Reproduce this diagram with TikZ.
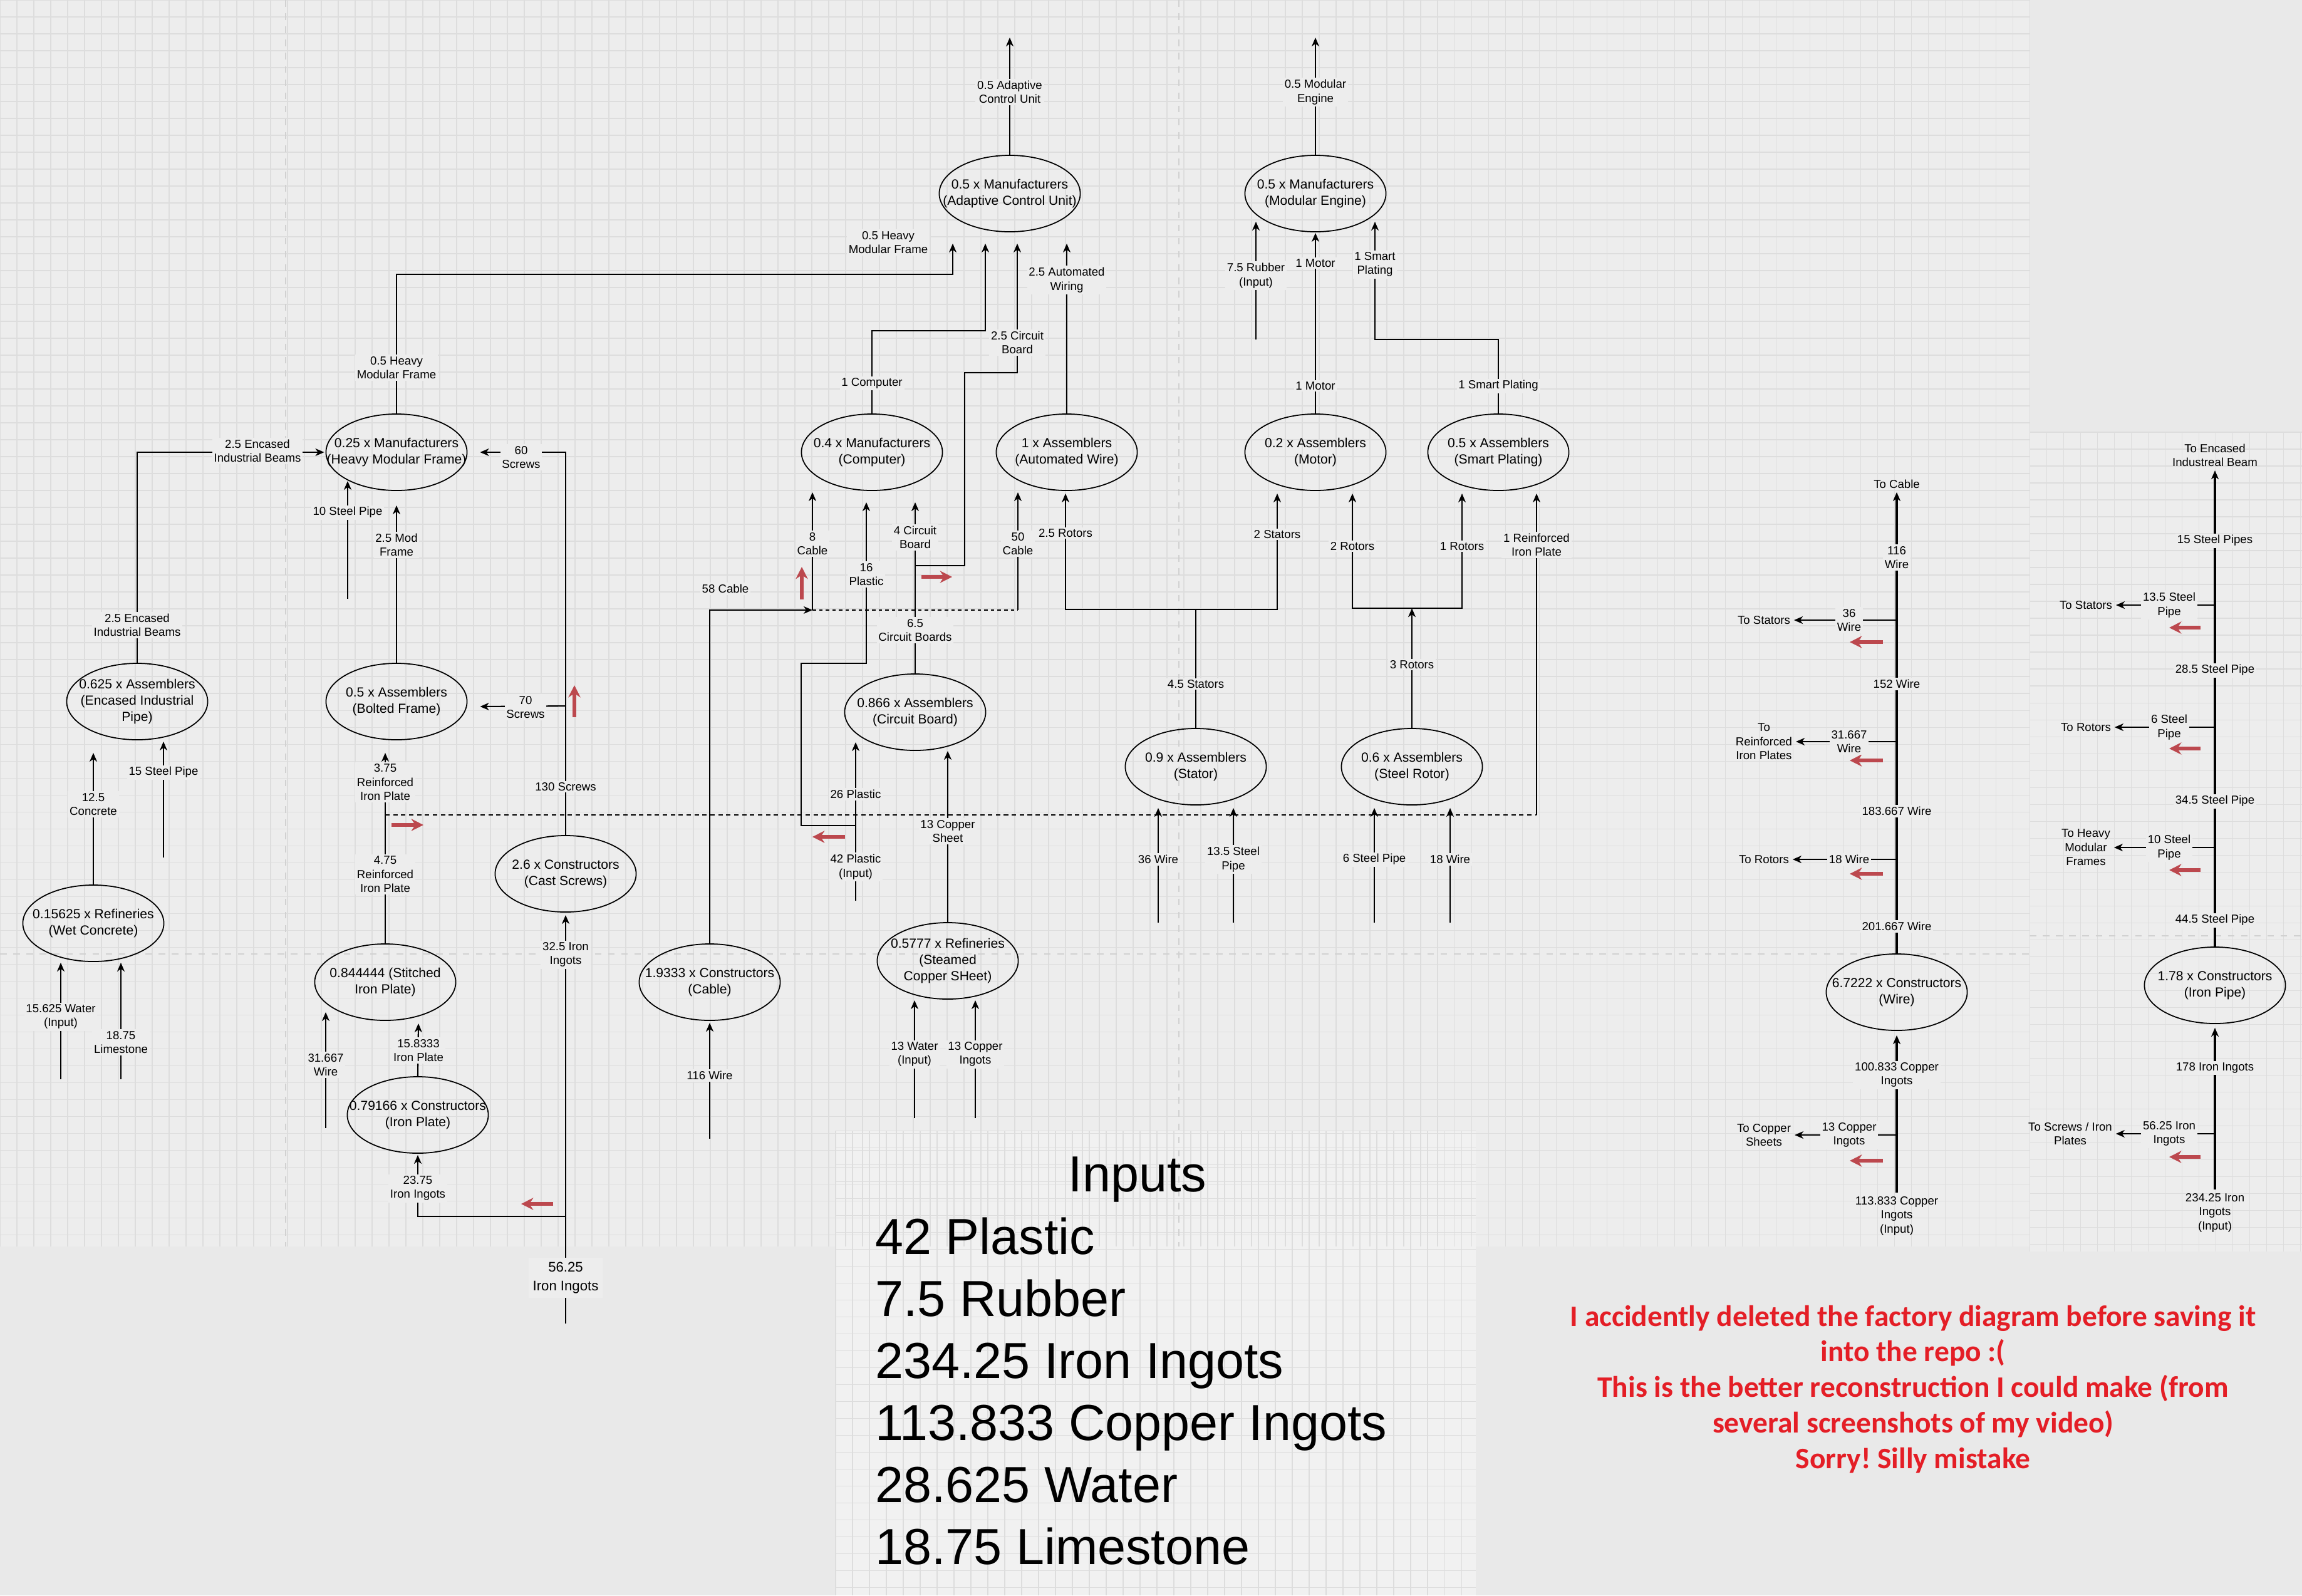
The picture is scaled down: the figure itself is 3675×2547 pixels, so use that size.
\documentclass[tikz,border=0pt]{standalone}
\usepackage{fontspec}
\setmainfont{Liberation Sans}
\newfontfamily\notefont{Carlito}
\usetikzlibrary{shapes.geometric,arrows.meta,calc}
\frenchspacing

\definecolor{canvas}{RGB}{233,233,233}
\definecolor{sheetbg}{RGB}{237,237,237}
\definecolor{inputbg}{RGB}{241,241,241}
\definecolor{gridline}{RGB}{221,221,221}
\definecolor{hintred}{RGB}{188,72,78}
\definecolor{notered}{RGB}{228,30,38}

\newcommand\unitfont{\fontsize{6}{7.3}\selectfont}
\newcommand\lblfont{\fontsize{5.3}{6.4}\selectfont}
\newcommand\bigfont{\fontsize{23}{28}\selectfont}

\tikzset{
    machine/.style={ellipse, draw, line width=0.5pt, minimum width=2.25cm, minimum height=1.22cm, inner xsep=-30pt, inner ysep=0pt, align=center, font=\unitfont},
    flow/.style={line width=0.6pt, -{Stealth[length=4pt,width=3.4pt,inset=1.2pt]}},
    trunk/.style={line width=1pt},
    dotline/.style={line width=0.6pt, dash pattern=on 1.6pt off 1.4pt},
    dashline/.style={line width=0.6pt, dash pattern=on 2pt off 1.6pt},
    lbl/.style={fill=sheetbg, inner sep=0.8pt, align=center, font=\lblfont},
    sink/.style={inner sep=1.5pt, align=center, font=\lblfont},
    hint/.style={draw=hintred, line width=1.5pt, -{Stealth[length=5.5pt,width=5.5pt]}},
    gridrule/.style={draw=gridline, line width=0.3pt},
    pagebreak/.style={draw=black!18, line width=0.4pt, dash pattern=on 3pt off 3pt},
}

\begin{document}
\begin{tikzpicture}[x=0.01cm, y=-0.01cm]
    \useasboundingbox (0,0) rectangle (3675,2547);
    % Sheets
        \fill[canvas] (0,0) rectangle (3675,2547);
        \fill[sheetbg] (0,0) rectangle (3240,1990);
        \fill[sheetbg] (3240,690) rectangle (3675,1998);
        \fill[inputbg] (1334,1805) rectangle (2356,2547);
        \foreach \gx in {0,27,...,3240} \draw[gridrule] (\gx,0) -- (\gx,1990);
        \foreach \gy in {0,27,...,1990} \draw[gridrule] (0,\gy) -- (3240,\gy);
        \foreach \gx in {3240,3267,...,3675} \draw[gridrule] (\gx,690) -- (\gx,1998);
        \foreach \gy in {690,717,...,1998} \draw[gridrule] (3240,\gy) -- (3675,\gy);
        \foreach \gx in {1334,1361,...,2356} \draw[gridrule] (\gx,1805) -- (\gx,2547);
        \foreach \gy in {1805,1832,...,2547} \draw[gridrule] (1334,\gy) -- (2356,\gy);
        \draw[pagebreak] (456,0) -- (456,1990);
        \draw[pagebreak] (1882,0) -- (1882,1990);
        \draw[pagebreak] (0,1523) -- (3240,1523);
        \draw[pagebreak] (3240,1494) -- (3675,1494);
    % Units
        \node[machine] (acu) at (1612,309) {0.5 x Manufacturers\\(Adaptive Control Unit)};
        \node[machine] (engine) at (2100,309) {0.5 x Manufacturers\\(Modular Engine)};
        \node[machine] (hmf) at (633,722) {0.25 x Manufacturers\\(Heavy Modular Frame)};
        \node[machine] (computer) at (1392,722) {0.4 x Manufacturers\\(Computer)};
        \node[machine] (autowire) at (1703,722) {1 x Assemblers\\(Automated Wire)};
        \node[machine] (motor) at (2100,722) {0.2 x Assemblers\\(Motor)};
        \node[machine] (smartplate) at (2392,722) {0.5 x Assemblers\\(Smart Plating)};
        \node[machine] (encased) at (219,1120) {0.625 x Assemblers\\(Encased Industrial\\Pipe)};
        \node[machine] (bolted) at (633,1120) {0.5 x Assemblers\\(Bolted Frame)};
        \node[machine] (circuit) at (1461,1137) {0.866 x Assemblers\\(Circuit Board)};
        \node[machine] (stator) at (1909,1224) {0.9 x Assemblers\\(Stator)};
        \node[machine] (rotor) at (2254,1224) {0.6 x Assemblers\\(Steel Rotor)};
        \node[machine] (screws) at (903,1395) {2.6 x Constructors\\(Cast Screws)};
        \node[machine] (concrete) at (149,1474) {0.15625 x Refineries\\(Wet Concrete)};
        \node[machine] (stitched) at (615,1568) {0.844444 (Stitched\\Iron Plate)};
        \node[machine] (cable) at (1133,1568) {1.9333 x Constructors\\(Cable)};
        \node[machine] (sheet) at (1513,1534) {0.5777 x Refineries\\(Steamed\\Copper SHeet)};
        \node[machine] (ironplate) at (667,1780) {0.79166 x Constructors\\(Iron Plate)};
        \node[machine] (wire) at (3028,1584) {6.7222 x Constructors\\(Wire)};
        \node[machine] (pipe) at (3536,1573) {1.78 x Constructors\\(Iron Pipe)};
    % Loose ends
        \coordinate (acu-out) at (1612,60);
        \coordinate (engine-out) at (2100,60);
        \coordinate (rubber-in) at (2005,542);
        \coordinate (hmfpipe-in) at (555,956);
        \coordinate (encpipe-in) at (261,1369);
        \coordinate (water-in) at (97,1723);
        \coordinate (lime-in) at (193,1723);
        \coordinate (stwire-in) at (520,1801);
        \coordinate (ingot-in) at (903,2113);
        \coordinate (cwire-in) at (1133,1818);
        \coordinate (plastic-in) at (1366,1438);
        \coordinate (water13-in) at (1460,1785);
        \coordinate (copper13-in) at (1557,1785);
        \coordinate (stwire36-in) at (1849,1473);
        \coordinate (stpipe-in) at (1969,1473);
        \coordinate (ropipe-in) at (2194,1473);
        \coordinate (rowire-in) at (2315,1473);
    % Arrow ends
        \coordinate (acu-t1) at ($(acu.south)+(-91,18)$);
        \coordinate (acu-t2) at ($(acu.south)+(-39,18)$);
        \coordinate (acu-t3) at ($(acu.south)+(12,18)$);
        \coordinate (acu-t4) at ($(acu.south)+(91,18)$);
        \coordinate (engine-t1) at ($(engine.south)+(-95,-17)$);
        \coordinate (engine-t2) at ($(engine.south)+(0,1)$);
        \coordinate (engine-t3) at ($(engine.south)+(95,-17)$);
        \coordinate (hmf-t1) at ($(hmf.west)+(-2,0)$);
        \coordinate (hmf-t2) at ($(hmf.south)+(-78,-16)$);
        \coordinate (hmf-t3) at ($(hmf.south)+(0,23)$);
        \coordinate (hmf-t4) at ($(hmf.east)+(20,0)$);
        \coordinate (computer-t1) at ($(computer.south)+(-95,2)$);
        \coordinate (computer-t2) at ($(computer.south)+(-9,18)$);
        \coordinate (computer-t3) at ($(computer.south)+(69,18)$);
        \coordinate (autowire-t1) at ($(autowire.south)+(-78,2)$);
        \coordinate (autowire-t2) at ($(autowire.south)+(-2,4)$);
        \coordinate (motor-t1) at ($(motor.south)+(-61,4)$);
        \coordinate (motor-t2) at ($(motor.south)+(59,4)$);
        \coordinate (smartplate-t1) at ($(smartplate.south)+(-58,4)$);
        \coordinate (smartplate-t2) at ($(smartplate.south)+(61,4)$);
        \coordinate (encased-t1) at ($(encased.south)+(-70,20)$);
        \coordinate (encased-t2) at ($(encased.south)+(42,2)$);
        \coordinate (bolted-t1) at ($(bolted.south)+(-18,20)$);
        \coordinate (bolted-t2) at ($(bolted.east)+(20,8)$);
        \coordinate (circuit-t1) at ($(circuit.south)+(-95,-14)$);
        \coordinate (circuit-t2) at ($(circuit.south)+(52,0)$);
        \coordinate (stator-t1) at ($(stator.south)+(-60,4)$);
        \coordinate (stator-t2) at ($(stator.south)+(60,4)$);
        \coordinate (rotor-t1) at ($(rotor.south)+(-60,4)$);
        \coordinate (rotor-t2) at ($(rotor.south)+(61,4)$);
        \coordinate (screws-t) at ($(screws.south)+(0,4)$);
        \coordinate (concrete-t1) at ($(concrete.south)+(-52,1)$);
        \coordinate (concrete-t2) at ($(concrete.south)+(44,1)$);
        \coordinate (stitched-t1) at ($(stitched.south)+(-95,-14)$);
        \coordinate (stitched-t2) at ($(stitched.south)+(53,4)$);
        \coordinate (cable-t) at ($(cable.south)+(0,3)$);
        \coordinate (sheet-t1) at ($(sheet.south)+(-53,1)$);
        \coordinate (sheet-t2) at ($(sheet.south)+(44,1)$);
        \coordinate (ironplate-t) at ($(ironplate.south)+(0,2)$);
        \coordinate (wire-t) at ($(wire.south)+(0,7)$);
        \coordinate (pipe-t) at ($(pipe.south)+(0,6)$);
    % Flows
        \draw[flow] (acu.north) -- (acu-out);
        \draw[flow] (engine.north) -- (engine-out);
        \draw[flow] (hmf.north) |- ($(acu-t1)+(0,49)$) -- (acu-t1);
        \draw[flow] (computer.north) |- ($(acu-t2)+(0,139)$) -- (acu-t2);
        \draw[flow] (circuit.north) -- (computer-t3);
        \draw[flow] ($(circuit.north)+(0,-172)$) -- ++(79,0) |- ($(acu-t3)+(0,206)$) -- (acu-t3);
        \draw[flow] (autowire.north) -- (acu-t4);
        \draw[flow] (rubber-in) -- (engine-t1);
        \draw[flow] (motor.north) -- (engine-t2);
        \draw[flow] (smartplate.north) |- ($(engine-t3)+(0,188)$) -- (engine-t3);
        \draw[flow] (encased.north) |- (hmf-t1);
        \draw[flow] (hmfpipe-in) -- (hmf-t2);
        \draw[flow] (bolted.north) -- (hmf-t3);
        \draw[flow] (screws.north) |- (hmf-t4);
        \draw[flow] ($(screws.north)+(0,-206)$) -- (bolted-t2);
        \coordinate (cable-j) at ($(computer-t1)+(0,188)$);
        \draw[flow] (cable.north) |- (cable-j);
        \draw[flow] (cable-j) -- (computer-t1);
        \draw[dotline] (cable-j) -- (cable-j -| autowire-t1);
        \draw[flow] (cable-j -| autowire-t1) -- (autowire-t1);
        \draw[flow] (plastic-in) -- (circuit-t1);
        \draw[flow] ($(plastic-in)+(0,-120)$) -- ++(-87,0) |- ($(computer-t2)+(0,257)$) -- (computer-t2);
        \draw[flow] (sheet.north) -- (circuit-t2);
        \draw[flow] (water13-in) -- (sheet-t1);
        \draw[flow] (copper13-in) -- (sheet-t2);
        \draw[flow] (cwire-in) -- (cable-t);
        \draw[flow] (stator.north) |- ($(autowire-t2)+(0,185)$) -- (autowire-t2);
        \draw[flow] (stator.north) |- ($(motor-t1)+(0,185)$) -- (motor-t1);
        \draw[flow] (stwire36-in) -- (stator-t1);
        \draw[flow] (stpipe-in) -- (stator-t2);
        \coordinate (rotor-j) at ($(rotor.north)+(0,-191)$);
        \draw[flow] (rotor.north) -- (rotor-j);
        \draw[flow] (rotor-j) -| (motor-t2);
        \draw[flow] (rotor-j) -| (smartplate-t1);
        \draw[flow] (ropipe-in) -- (rotor-t1);
        \draw[flow] (rowire-in) -- (rotor-t2);
        \draw[flow] (stitched.north) -- (bolted-t1);
        \coordinate (rip-j) at ($(bolted-t1)+(0,99)$);
        \draw[dashline] (rip-j) -- (rip-j -| smartplate-t2);
        \draw[flow] (rip-j -| smartplate-t2) -- (smartplate-t2);
        \draw[flow] (ironplate.north) -- (stitched-t2);
        \draw[flow] (stwire-in) -- (stitched-t1);
        \draw[flow] (ingot-in) -- (screws-t);
        \draw[flow] ($(ingot-in)+(0,-171)$) -| (ironplate-t);
        \draw[flow] (concrete.north) -- (encased-t1);
        \draw[flow] (encpipe-in) -- (encased-t2);
        \draw[flow] (water-in) -- (concrete-t1);
        \draw[flow] (lime-in) -- (concrete-t2);
    % Wire and pipe lines
        \node[sink] (w-cable) at (3028,773) {To Cable};
        \node[sink] (w-stat) at (2816,990) {To Stators};
        \node[sink] (w-rip) at (2816,1184) {To\\Reinforced\\Iron Plates};
        \node[sink] (w-rot) at (2816,1372) {To Rotors};
        \node[sink] (w-sheet) at (2816,1812) {To Copper\\Sheets};
        \node[sink] (w-in) at (3028,1941) {113.833 Copper\\Ingots\\(Input)};
        \draw[flow, trunk] (wire.north) -- (w-cable);
        \draw[flow, trunk] (w-in) -- (wire-t);
        \draw[flow] (w-stat -| wire.north) -- (w-stat);
        \draw[flow] (w-rip -| wire.north) -- (w-rip);
        \draw[flow] (w-rot -| wire.north) -- (w-rot);
        \draw[flow] (w-sheet -| wire.north) -- (w-sheet);
        \node[sink] (p-beam) at (3536,727) {To Encased\\Industreal Beam};
        \node[sink] (p-stat) at (3330,966) {To Stators};
        \node[sink] (p-rot) at (3330,1161) {To Rotors};
        \node[sink] (p-hmf) at (3330,1353) {To Heavy\\Modular\\Frames};
        \node[sink] (p-scr) at (3305,1810) {To Screws / Iron\\Plates};
        \node[sink] (p-in) at (3536,1936) {234.25 Iron\\Ingots\\(Input)};
        \draw[flow, trunk] (pipe.north) -- (p-beam);
        \draw[flow, trunk] (p-in) -- (pipe-t);
        \draw[flow] (p-stat -| pipe.north) -- (p-stat);
        \draw[flow] (p-rot -| pipe.north) -- (p-rot);
        \draw[flow] (p-hmf -| pipe.north) -- (p-hmf);
        \draw[flow] (p-scr -| pipe.north) -- (p-scr);
    % Hints
        \draw[hint] (1280,957) -- (1280,905);
        \draw[hint] (1471,921) -- (1520,921);
        \draw[hint] (1349,1336) -- (1297,1336);
        \draw[hint] (917,1145) -- (917,1094);
        \draw[hint] (625,1317) -- (676,1317);
        \draw[hint] (883,1922) -- (832,1922);
        \foreach \hy in {1025,1214,1395,1853} \draw[hint] (3006,\hy) -- (2953,\hy);
        \foreach \hy in {1002,1195,1389,1847} \draw[hint] (3513,\hy) -- (3463,\hy);
    % Labels
        \node[lbl] (l1) at (1612,147) {0.5 Adaptive\\Control Unit};
        \node[lbl] (l2) at (2100,147) {0.5 Modular\\Engine};
        \node[lbl] (l3) at (1418,387) {0.5 Heavy\\Modular Frame};
        \node[lbl] (l4) at (633,587) {0.5 Heavy\\Modular Frame};
        \node[lbl] (l5) at (1392,612) {1 Computer};
        \node[lbl] (l6) at (1624,547) {2.5 Circuit\\Board};
        \node[lbl] (l7) at (1703,447) {2.5 Automated\\Wiring};
        \node[lbl] (l8) at (2005,440) {7.5 Rubber\\(Input)};
        \node[lbl] (l9) at (2100,420) {1 Motor};
        \node[lbl] (l10) at (2195,422) {1 Smart\\Plating};
        \node[lbl] (l11) at (2100,616) {1 Motor};
        \node[lbl] (l12) at (2392,616) {1 Smart Plating};
        \node[lbl] (l13) at (411,720) {2.5 Encased\\Industrial Beams};
        \node[lbl] (l14) at (219,998) {2.5 Encased\\Industrial Beams};
        \node[lbl] (l15) at (832,730) {60\\Screws};
        \node[lbl] (l16) at (555,818) {10 Steel Pipe};
        \node[lbl] (l17) at (633,870) {2.5 Mod\\Frame};
        \node[lbl] (l18) at (839,1129) {70\\Screws};
        \node[lbl] (l19) at (903,1256) {130 Screws};
        \node[lbl] (l20) at (149,1284) {12.5\\Concrete};
        \node[lbl] (l21) at (261,1233) {15 Steel Pipe};
        \node[lbl] (l22) at (615,1249) {3.75\\Reinforced\\Iron Plate};
        \node[lbl] (l23) at (615,1396) {4.75\\Reinforced\\Iron Plate};
        \node[lbl] (l24) at (97,1623) {15.625 Water\\(Input)};
        \node[lbl] (l25) at (193,1664) {18.75\\Limestone};
        \node[lbl] (l26) at (520,1700) {31.667\\Wire};
        \node[lbl] (l27) at (668,1677) {15.8333\\Iron Plate};
        \node[lbl] (l28) at (667,1897) {23.75\\Iron Ingots};
        \node[lbl] (l29) at (903,1524) {32.5 Iron\\Ingots};
        \node[lbl, font=\fontsize{6.3}{8.5}\selectfont, inner sep=2pt] (l30) at (903,2040) {56.25\\Iron Ingots};
        \node[lbl] (l31) at (1297,868) {8\\Cable};
        \node[lbl] (l32) at (1383,917) {16\\Plastic};
        \node[lbl] (l33) at (1461,858) {4 Circuit\\Board};
        \node[lbl] (l34) at (1625,868) {50\\Cable};
        \node[lbl] (l35) at (1701,851) {2.5 Rotors};
        \node[lbl] (l36) at (1158,940) {58 Cable};
        \node[lbl] (l37) at (1461,1006) {6.5\\Circuit Boards};
        \node[lbl] (l38) at (1366,1268) {26 Plastic};
        \node[lbl] (l39) at (1366,1384) {42 Plastic\\(Input)};
        \node[lbl] (l40) at (1513,1327) {13 Copper\\Sheet};
        \node[lbl] (l41) at (1460,1683) {13 Water\\(Input)};
        \node[lbl] (l42) at (1557,1683) {13 Copper\\Ingots};
        \node[lbl] (l43) at (1133,1717) {116 Wire};
        \node[lbl] (l44) at (2039,853) {2 Stators};
        \node[lbl] (l45) at (2159,872) {2 Rotors};
        \node[lbl] (l46) at (2334,872) {1 Rotors};
        \node[lbl] (l47) at (2453,870) {1 Reinforced\\Iron Plate};
        \node[lbl] (l48) at (1909,1092) {4.5 Stators};
        \node[lbl] (l49) at (2254,1061) {3 Rotors};
        \node[lbl] (l50) at (1849,1372) {36 Wire};
        \node[lbl] (l51) at (1969,1372) {13.5 Steel\\Pipe};
        \node[lbl] (l52) at (2194,1372) {6 Steel Pipe};
        \node[lbl] (l53) at (2315,1372) {18 Wire};
        \node[lbl] (l54) at (3028,890) {116\\Wire};
        \node[lbl] (l55) at (2952,990) {36\\Wire};
        \node[lbl] (l56) at (3028,1092) {152 Wire};
        \node[lbl] (l57) at (2952,1184) {31.667\\Wire};
        \node[lbl] (l58) at (3028,1295) {183.667 Wire};
        \node[lbl] (l59) at (2952,1372) {18 Wire};
        \node[lbl] (l60) at (3028,1479) {201.667 Wire};
        \node[lbl] (l61) at (3028,1716) {100.833 Copper\\Ingots};
        \node[lbl] (l62) at (2952,1812) {13 Copper\\Ingots};
        \node[lbl] (l63) at (3536,863) {15 Steel Pipes};
        \node[lbl] (l64) at (3463,966) {13.5 Steel\\Pipe};
        \node[lbl] (l65) at (3536,1070) {28.5 Steel Pipe};
        \node[lbl] (l66) at (3463,1161) {6 Steel\\Pipe};
        \node[lbl] (l67) at (3536,1279) {34.5 Steel Pipe};
        \node[lbl] (l68) at (3463,1353) {10 Steel\\Pipe};
        \node[lbl] (l69) at (3536,1469) {44.5 Steel Pipe};
        \node[lbl] (l70) at (3536,1705) {178 Iron Ingots};
        \node[lbl] (l71) at (3463,1810) {56.25 Iron\\Ingots};
    % Inputs
        \node[anchor=base, font=\bigfont] (inputs) at (1816,1902) {Inputs};
        \foreach \amount [count=\i] in {42 Plastic, 7.5 Rubber, 234.25 Iron Ingots, 113.833 Copper Ingots, 28.625 Water, 18.75 Limestone}
            \node[anchor=base west, font=\bigfont] (input-\i) at (1385,{2002+99*(\i-1)}) {\amount};
    % Note
        \node[align=center, text=notered, font=\notefont\bfseries\fontsize{13.5}{16.2}\selectfont] (note) at (3054,2218) {I accidently deleted the factory diagram before saving it\\into the repo :(\\This is the better reconstruction I could make (from\\several screenshots of my video)\\Sorry! Silly mistake};
\end{tikzpicture}
\end{document}
